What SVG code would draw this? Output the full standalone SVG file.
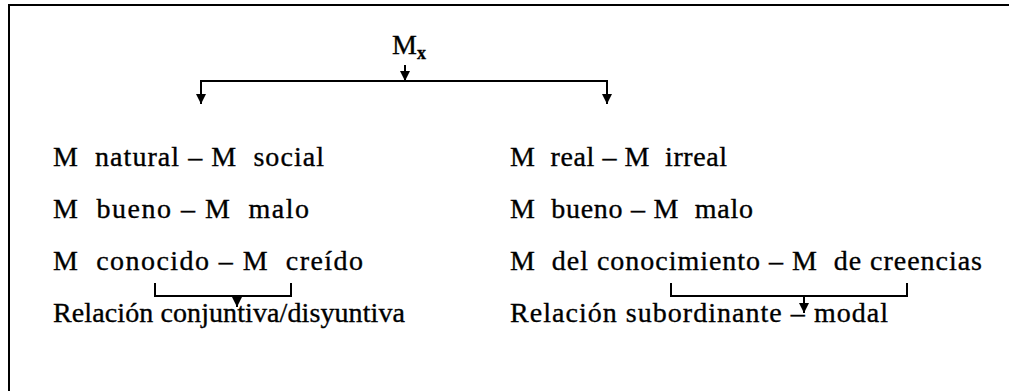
<svg xmlns="http://www.w3.org/2000/svg" width="1009" height="391" viewBox="0 0 1009 391">
<style>
.t{font-family:"Liberation Serif","Times New Roman",serif;font-size:28px;fill:#000;stroke:#000;stroke-width:0.35;white-space:pre}
.ln{stroke:#000;stroke-width:2;fill:none}
</style>
<defs>
<marker id="ah" viewBox="0 0 10 10" refX="10" refY="5" markerWidth="5" markerHeight="5" orient="auto" markerUnits="strokeWidth">
<path d="M0,0 L10,5 L0,10 z" fill="#000"/>
</marker>
</defs>
<rect width="1009" height="391" fill="#fff"/>
<path class="ln" d="M9,391 V5 H1009"/>
<g id="root"><text class="t" x="392" y="54">M<tspan font-size="18" font-weight="bold" dy="5">x</tspan></text></g>
<g id="left1"><text class="t" x="53" y="166" textLength="271" lengthAdjust="spacing">M  natural – M  social</text></g>
<g id="left2"><text class="t" x="53" y="218" textLength="256" lengthAdjust="spacing">M  bueno – M  malo</text></g>
<g id="left3"><text class="t" x="53" y="270" textLength="310" lengthAdjust="spacing">M  conocido – M  creído</text></g>
<g id="left4"><text class="t" x="53" y="322" textLength="352" lengthAdjust="spacing">Relación conjuntiva/disyuntiva</text></g>
<g id="right1"><text class="t" x="510" y="166" textLength="217" lengthAdjust="spacing">M  real – M  irreal</text></g>
<g id="right2"><text class="t" x="510" y="218" textLength="243" lengthAdjust="spacing">M  bueno – M  malo</text></g>
<g id="right3"><text class="t" x="510" y="270" textLength="472" lengthAdjust="spacing">M  del conocimiento – M  de creencias</text></g>
<g id="right4"><text class="t" x="510" y="322" textLength="378" lengthAdjust="spacing">Relación subordinante – modal</text></g>
<g id="connectors">
<line class="ln" x1="405" y1="65" x2="405" y2="81" marker-end="url(#ah)"/>
<path class="ln" d="M201,100 V81 H607 V100"/>
<line class="ln" x1="201" y1="95" x2="201" y2="104" marker-end="url(#ah)"/>
<line class="ln" x1="607" y1="95" x2="607" y2="104" marker-end="url(#ah)"/>
<path class="ln" d="M155,283 V296 H291 V283"/>
<line class="ln" x1="237" y1="296" x2="237" y2="307" marker-end="url(#ah)"/>
<path class="ln" d="M671,283 V296 H907 V283"/>
<line class="ln" x1="804" y1="296" x2="804" y2="313" marker-end="url(#ah)"/>
</g>
</svg>
